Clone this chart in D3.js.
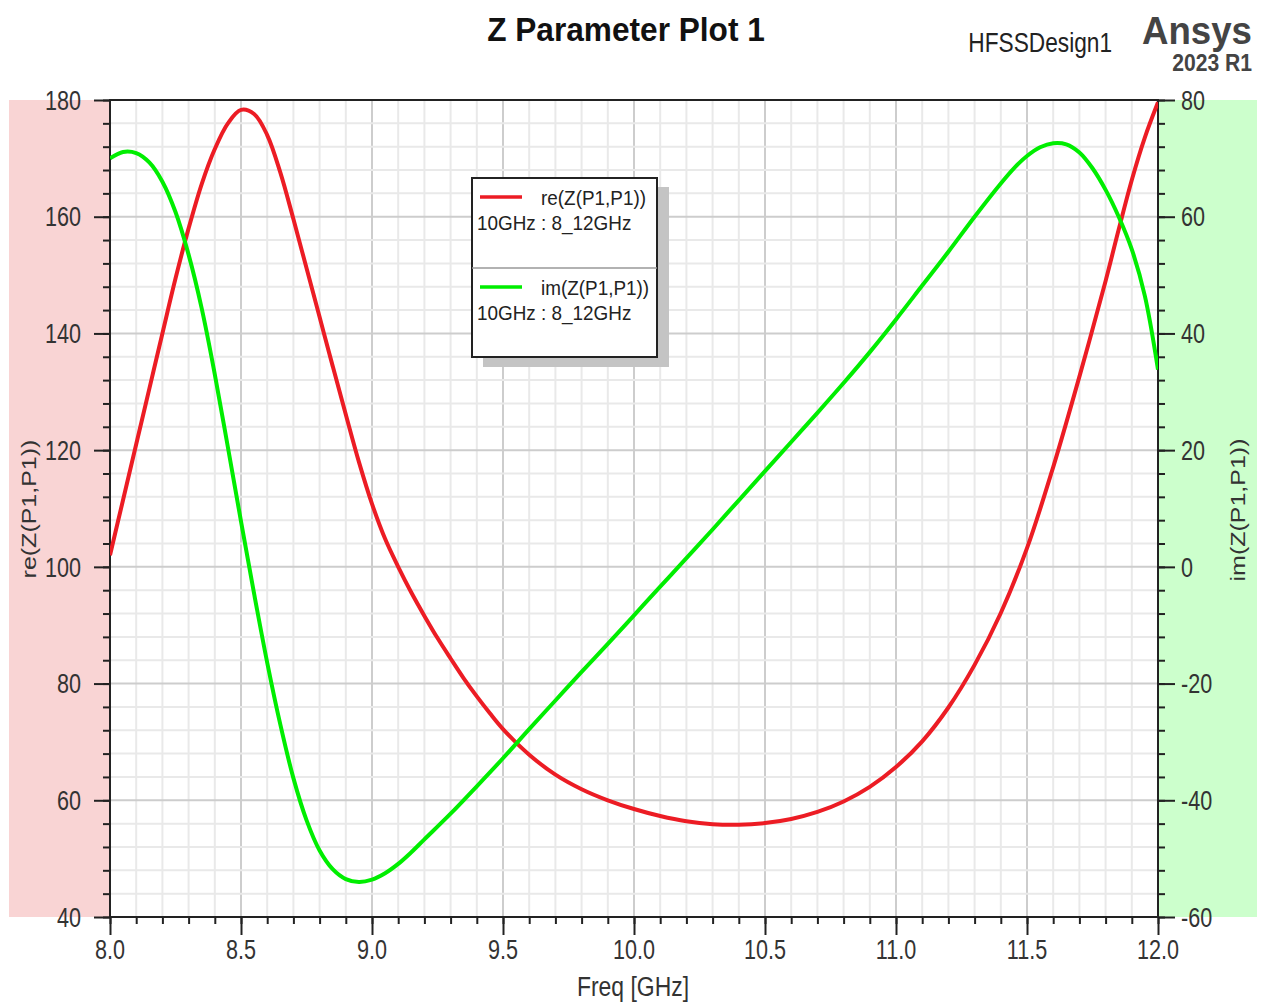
<!DOCTYPE html>
<html>
<head>
<meta charset="utf-8">
<script src="https://cdn.jsdelivr.net/npm/d3@7"></script>
<style>
body { margin: 0; background: #fff; }
svg { display: block; }
</style>
</head>
<body>
<script>
// re(Z(P1,P1)), left axis
var freqRe = [8.0, 8.05, 8.1, 8.15, 8.2, 8.25, 8.3, 8.35, 8.4, 8.45, 8.5, 8.55, 8.6, 8.65, 8.7, 8.75, 8.8, 8.85, 8.9, 8.95,
  9.0, 9.05, 9.1, 9.15, 9.2, 9.25, 9.3, 9.35, 9.4, 9.45, 9.5, 9.6, 9.7, 9.8, 9.9, 10.0, 10.1, 10.2, 10.3, 10.4, 10.5,
  10.6, 10.7, 10.8, 10.9, 11.0, 11.1, 11.2, 11.3, 11.4, 11.5, 11.6, 11.7, 11.8, 11.85, 11.9, 11.95, 12.0];
var reZ = [102, 111.5, 121, 130.5, 140, 149.4, 158, 165.6, 171.6, 176.0, 178.3, 177.6, 174.0, 167.6, 159.6, 151.2, 142.8, 134.4, 126.1, 118.0,
  110.8, 104.8, 100.0, 95.6, 91.6, 87.8, 84.3, 80.9, 77.8, 74.9, 72.2, 67.8, 64.4, 61.9, 60.0, 58.5, 57.3, 56.4, 55.9, 55.8, 56.1,
  56.8, 58.0, 59.8, 62.3, 65.7, 70.1, 75.9, 83.2, 92.1, 103.2, 117.1, 132.6, 149, 157.8, 166.3, 173.6, 179.6];

// im(Z(P1,P1)), right axis
var freqIm = [8.0, 8.05, 8.1, 8.15, 8.2, 8.25, 8.3, 8.35, 8.4, 8.45, 8.5, 8.55, 8.6, 8.65, 8.7, 8.75, 8.8, 8.85, 8.9, 8.95,
  9.0, 9.05, 9.1, 9.15, 9.2, 9.3, 9.4, 9.5, 9.6, 9.7, 9.8, 9.9, 10.0, 10.1, 10.2, 10.3, 10.4, 10.5, 10.6, 10.7, 10.8, 10.9,
  11.0, 11.1, 11.2, 11.3, 11.4, 11.45, 11.5, 11.55, 11.6, 11.65, 11.7, 11.75, 11.8, 11.85, 11.9, 11.95, 12.0];
var imZ = [70, 71.1, 70.9, 69.3, 66.0, 60.8, 53.5, 44.3, 33.0, 20.5, 7.8, -4.6, -16.4, -27.0, -36.2, -43.4, -48.6, -51.8, -53.5, -54.0,
  -53.6, -52.5, -50.9, -48.9, -46.7, -42.3, -37.6, -32.8, -27.8, -22.9, -18.0, -13.2, -8.3, -3.4, 1.5, 6.4, 11.4, 16.4, 21.4, 26.4, 31.5, 36.8,
  42.4, 48.2, 54.0, 60.0, 65.7, 68.3, 70.4, 71.9, 72.6, 72.4, 71.0, 68.3, 64.6, 60.0, 54.4, 46.4, 33.8];

var xTicks = [8.0, 8.5, 9.0, 9.5, 10.0, 10.5, 11.0, 11.5, 12.0];
var yLeftTicks = [40, 60, 80, 100, 120, 140, 160, 180];
var yRightTicks = [-60, -40, -20, 0, 20, 40, 60, 80];
var legendNames = ["re(Z(P1,P1))", "im(Z(P1,P1))"];
var legendSub = "10GHz : 8_12GHz";

var width = 1264, height = 1003;
var L = 110, R = 1158, T = 100, B = 917;
var FONT = "'Liberation Sans', Arial, sans-serif";

var svg = d3.select("body").append("svg")
    .attr("width", width)
    .attr("height", height);

var x = d3.scaleLinear().domain([8, 12]).range([L, R]);
var yL = d3.scaleLinear().domain([40, 180]).range([B, T]);
var yR = d3.scaleLinear().domain([-60, 80]).range([B, T]);

// coloured side bands
svg.append("rect").attr("x", 9).attr("y", T).attr("width", L - 9).attr("height", B - T).attr("fill", "#f9d4d4");
svg.append("rect").attr("x", R).attr("y", T).attr("width", 1257 - R).attr("height", B - T).attr("fill", "#ccffcc");
svg.append("rect").attr("x", L).attr("y", T).attr("width", R - L).attr("height", B - T).attr("fill", "#fff");

// grid
var xMinor = d3.range(81, 120).map(function(d) { return d / 10; });
var yMinor = d3.range(44, 180, 4);
var grid = svg.append("g");
grid.selectAll("line.vx").data(xMinor).enter().append("line")
    .attr("x1", function(d) { return x(d); }).attr("x2", function(d) { return x(d); })
    .attr("y1", T).attr("y2", B)
    .attr("stroke", function(d) { return Math.abs(d * 2 - Math.round(d * 2)) < 1e-6 ? "#cdcdcd" : "#e9e9e9"; })
    .attr("stroke-width", 2);
grid.selectAll("line.hy").data(yMinor).enter().append("line")
    .attr("y1", function(d) { return yL(d); }).attr("y2", function(d) { return yL(d); })
    .attr("x1", L).attr("x2", R)
    .attr("stroke", function(d) { return d % 20 === 0 ? "#cdcdcd" : "#e9e9e9"; })
    .attr("stroke-width", 2);

// axes (ticks only, labels drawn separately)
function styleAxis(g) {
    g.selectAll("path").remove();
    g.selectAll("line").attr("stroke", "#222").attr("stroke-width", 2);
}
var xMinorTicks = d3.range(80, 121).map(function(d) { return d / 10; });
svg.append("g").attr("transform", "translate(0," + B + ")")
    .call(d3.axisBottom(x).tickValues(xMinorTicks).tickSize(7).tickFormat("")).call(styleAxis);
svg.append("g").attr("transform", "translate(0," + B + ")")
    .call(d3.axisBottom(x).tickValues(xTicks).tickSize(18).tickFormat("")).call(styleAxis);
svg.append("g").attr("transform", "translate(" + L + ",0)")
    .call(d3.axisLeft(yL).tickValues(d3.range(40, 181, 4)).tickSize(7).tickFormat("")).call(styleAxis);
svg.append("g").attr("transform", "translate(" + L + ",0)")
    .call(d3.axisLeft(yL).tickValues(yLeftTicks).tickSize(16).tickFormat("")).call(styleAxis);
svg.append("g").attr("transform", "translate(" + R + ",0)")
    .call(d3.axisRight(yR).tickValues(d3.range(-60, 81, 4)).tickSize(7).tickFormat("")).call(styleAxis);
svg.append("g").attr("transform", "translate(" + R + ",0)")
    .call(d3.axisRight(yR).tickValues(yRightTicks).tickSize(17).tickFormat("")).call(styleAxis);

// frame
svg.append("rect").attr("x", L).attr("y", T).attr("width", R - L).attr("height", B - T)
    .attr("fill", "none").attr("stroke", "#222").attr("stroke-width", 2);

// text helper: condensed look of the original
function label(px, py, s, o) {
    var tr = "translate(" + px + "," + py + ") scale(" + (o.sx || 0.8) + ",1)" + (o.rot ? " rotate(-90)" : "");
    var t = svg.append("text")
        .attr("transform", tr)
        .attr("text-anchor", o.anchor || "start")
        .attr("font-family", FONT)
        .attr("font-size", o.size)
        .attr("font-weight", o.weight || "normal")
        .attr("fill", o.fill || "#333")
        .text(s);
    if (o.mid) t.attr("dy", "0.36em");
    return t;
}

xTicks.forEach(function(d) { label(x(d), 959, d.toFixed(1), {size: 27, anchor: "middle"}); });
yLeftTicks.forEach(function(d) { label(81, yL(d), d, {size: 27, anchor: "end", mid: true}); });
yRightTicks.forEach(function(d) { label(1181, yR(d), d, {size: 27, anchor: "start", mid: true}); });

label(633, 996, "Freq [GHz]", {size: 27, anchor: "middle", sx: 0.85});
label(29, 509, "re(Z(P1,P1))", {size: 25, anchor: "middle", rot: true, mid: true});
label(1238, 510, "im(Z(P1,P1))", {size: 25, anchor: "middle", rot: true, mid: true});

label(626, 41, "Z Parameter Plot 1", {size: 34, anchor: "middle", weight: "bold", sx: 0.93, fill: "#111"});
label(1112, 52, "HFSSDesign1", {size: 28, anchor: "end", sx: 0.81, fill: "#222"});
label(1252, 44, "Ansys", {size: 39, anchor: "end", weight: "bold", sx: 0.94, fill: "#444"});
label(1252, 71, "2023 R1", {size: 24, anchor: "end", weight: "bold", sx: 0.88, fill: "#444"});

// curves
var lineRe = d3.line().x(function(d, i) { return x(freqRe[i]); }).y(function(d) { return yL(d); })
    .curve(d3.curveCatmullRom.alpha(0.5));
var lineIm = d3.line().x(function(d, i) { return x(freqIm[i]); }).y(function(d) { return yR(d); })
    .curve(d3.curveCatmullRom.alpha(0.5));
svg.append("clipPath").attr("id", "plotclip").append("rect")
    .attr("x", L).attr("y", T - 3).attr("width", R - L).attr("height", B - T + 6);
var curves = svg.append("g").attr("clip-path", "url(#plotclip)");
curves.append("path").datum(reZ).attr("d", lineRe)
    .attr("fill", "none").attr("stroke", "#ec1c24").attr("stroke-width", 4);
curves.append("path").datum(imZ).attr("d", lineIm)
    .attr("fill", "none").attr("stroke", "#00ee00").attr("stroke-width", 4);

// legend
var lg = svg.append("g");
lg.append("rect").attr("x", 483).attr("y", 187).attr("width", 186).attr("height", 180).attr("fill", "#c4c4c4");
lg.append("rect").attr("x", 472).attr("y", 178).attr("width", 185).attr("height", 179)
    .attr("fill", "#fff").attr("stroke", "#222").attr("stroke-width", 2);
lg.append("line").attr("x1", 472).attr("x2", 657).attr("y1", 268).attr("y2", 268)
    .attr("stroke", "#999").attr("stroke-width", 1.5);
var legColors = ["#ec1c24", "#00ee00"];
legendNames.forEach(function(n, i) {
    var y0 = 197 + i * 90;
    lg.append("line").attr("x1", 480).attr("x2", 522).attr("y1", y0).attr("y2", y0)
        .attr("stroke", legColors[i]).attr("stroke-width", 3.5);
    label(541, y0 + 8, n, {size: 21, sx: 0.9, fill: "#222"});
    label(477, y0 + 33, legendSub, {size: 21, sx: 0.9, fill: "#222"});
});
</script>
</body>
</html>
